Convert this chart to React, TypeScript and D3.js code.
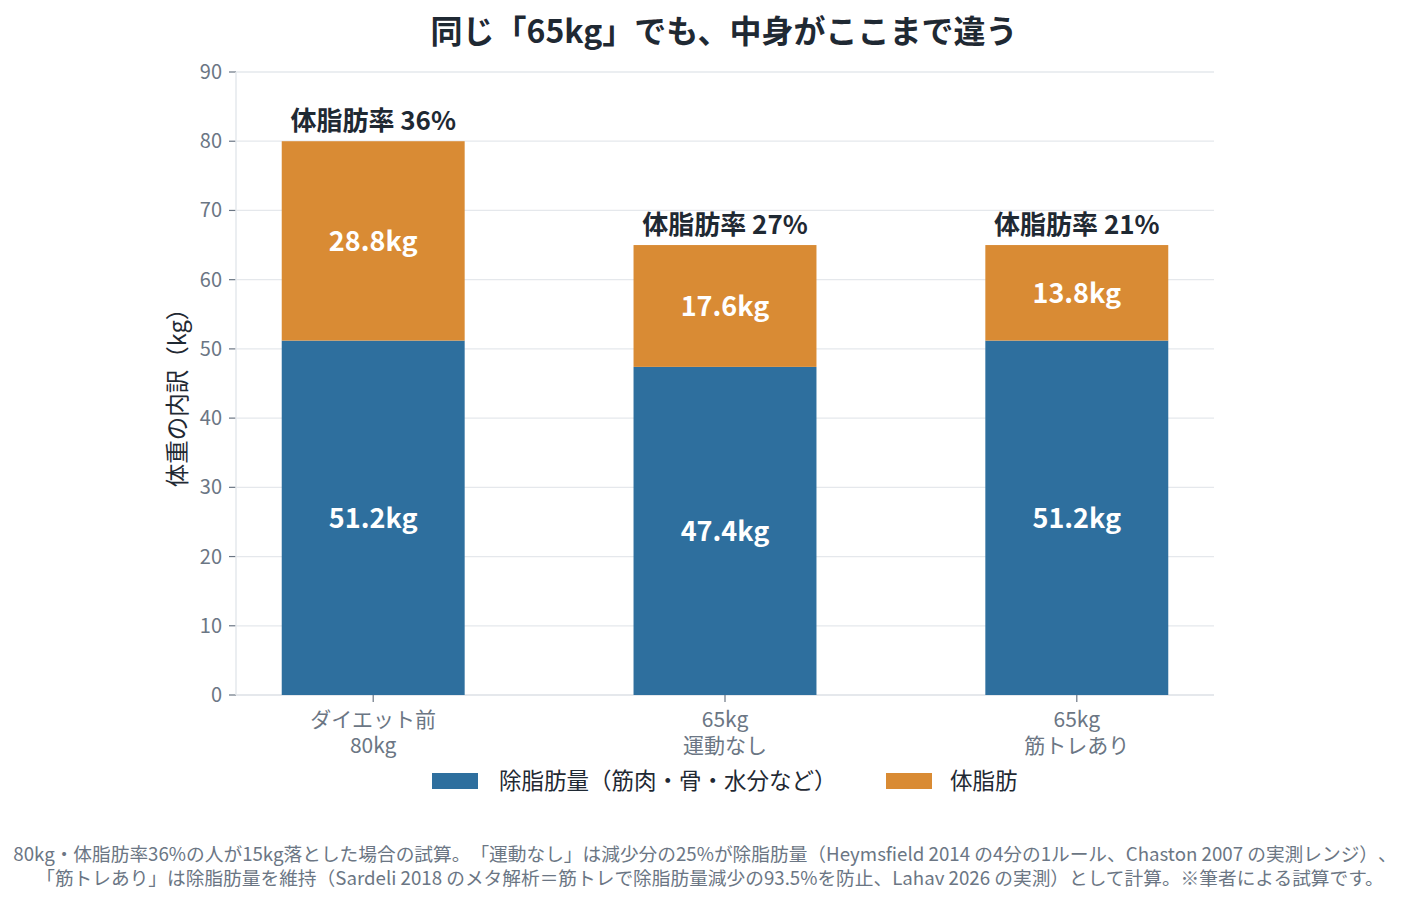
import React, { useEffect } from 'react';
import * as d3 from 'd3';

const categories = ['ダイエット前\n80kg', '65kg\n運動なし', '65kg\n筋トレあり'];
const leanMass = [51.2, 47.4, 51.2];
const fatMass = [28.8, 17.6, 13.8];
const fatRates = ['体脂肪率 36%', '体脂肪率 27%', '体脂肪率 21%'];
const yTicks = [0, 10, 20, 30, 40, 50, 60, 70, 80, 90];
const seriesNames = ['除脂肪量（筋肉・骨・水分など）', '体脂肪'];

const W = 1419;
const H = 905;
const FONT = '"Noto Sans CJK JP", "Noto Sans", sans-serif';
const BLUE = '#2e6f9e';
const ORANGE = '#d98b34';
const GRID = '#e5e8ec';
const TICK = '#6b7684';
const DARK = '#1f2933';

const App: React.FC = () => {
  useEffect(() => {
    document.body.style.margin = '0';
  }, []);

  const x = d3.scaleBand<string>()
    .domain(categories)
    .range([236, 1214])
    .paddingInner(0.48)
    .paddingOuter(0.13);
  const y = d3.scaleLinear().domain([0, 90]).range([695, 72]);

  return (
    <svg width={W} height={H} style={{ display: 'block', fontFamily: FONT, textSpacingTrim: 'space-all' } as any}>
      <text x={724} y={43} textAnchor="middle" fontSize={32} fontWeight={700} fill={DARK}>
        同じ「65kg」でも、中身がここまで違う
      </text>

      {yTicks.map(t => (
        <g key={t}>
          {t > 0 && <line x1={236} x2={1214} y1={y(t)} y2={y(t)} stroke={GRID} strokeWidth={1.3} />}
          <line x1={229} x2={236} y1={y(t)} y2={y(t)} stroke={TICK} strokeWidth={1.2} />
          <text x={222} y={y(t)} dy="0.35em" textAnchor="end" fontSize={20} fill={TICK}>{t}</text>
        </g>
      ))}
      <line x1={236} x2={236} y1={72} y2={695} stroke={GRID} strokeWidth={1.5} />
      <line x1={236} x2={1214} y1={695} y2={695} stroke={GRID} strokeWidth={2} />

      <text transform="translate(186,392) rotate(-90)" textAnchor="middle" fontSize={23.5} fill={DARK}>
        体重の内訳（kg）
      </text>

      {categories.map((c, i) => {
        const x0 = x(c)!;
        const bw = x.bandwidth();
        const cx = x0 + bw / 2;
        const total = leanMass[i] + fatMass[i];
        return (
          <g key={c}>
            <rect x={x0} width={bw} y={y(leanMass[i])} height={y(0) - y(leanMass[i])} fill={BLUE} />
            <rect x={x0} width={bw} y={y(total)} height={y(leanMass[i]) - y(total)} fill={ORANGE} />
            <text x={cx} y={y(leanMass[i] / 2)} dy="0.36em" textAnchor="middle" fontSize={27} fontWeight={700} fill="#fff">
              {leanMass[i]}kg
            </text>
            <text x={cx} y={y(leanMass[i] + fatMass[i] / 2)} dy="0.36em" textAnchor="middle" fontSize={27} fontWeight={700} fill="#fff">
              {fatMass[i]}kg
            </text>
            <text x={cx} y={y(total) - 11} textAnchor="middle" fontSize={26} fontWeight={700} fill={DARK}>
              {fatRates[i]}
            </text>
            <line x1={cx} x2={cx} y1={695} y2={702} stroke={TICK} strokeWidth={1.2} />
            {c.split('\n').map((line, j) => (
              <text key={j} x={cx} y={727 + j * 26} textAnchor="middle" fontSize={21} fill={TICK}>{line}</text>
            ))}
          </g>
        );
      })}

      <rect x={432} y={773} width={46} height={16} fill={BLUE} />
      <text x={499} y={781} dy="0.36em" fontSize={22.5} fill={DARK}>{seriesNames[0]}</text>
      <rect x={886} y={773} width={46} height={16} fill={ORANGE} />
      <text x={950} y={781} dy="0.36em" fontSize={22.5} fill={DARK}>{seriesNames[1]}</text>

      <text x={705} y={861} textAnchor="middle" fontSize={18.7} fill={TICK}>
        80kg・体脂肪率36%の人が15kg落とした場合の試算。「運動なし」は減少分の25%が除脂肪量（Heymsfield 2014 の4分の1ルール、Chaston 2007 の実測レンジ）、
      </text>
      <text x={710} y={885} textAnchor="middle" fontSize={18.7} fill={TICK}>
        「筋トレあり」は除脂肪量を維持（Sardeli 2018 のメタ解析＝筋トレで除脂肪量減少の93.5%を防止、Lahav 2026 の実測）として計算。※筆者による試算です。
      </text>
    </svg>
  );
};

export default App;
